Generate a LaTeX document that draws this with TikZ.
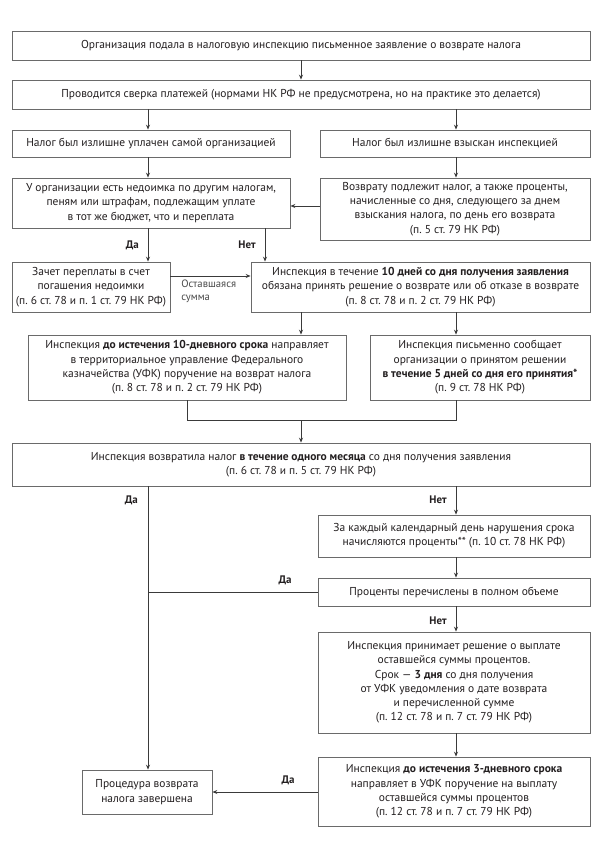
\documentclass[tikz,border=0pt]{standalone}
\usepackage{fontspec}
\setmainfont{PT Sans}
\usetikzlibrary{arrows.meta,calc}
\definecolor{boxc}{HTML}{6A6A6A}
\definecolor{linec}{HTML}{3A3A3A}
\definecolor{txt}{HTML}{231F20}
\definecolor{gtxt}{HTML}{4A4A4A}
\begin{document}
\begin{tikzpicture}[x=0.75pt,y=-0.75pt,
  bx/.style={draw=boxc, line width=0.7pt, inner sep=1pt, align=center,
     font=\fontsize{8.6}{10.7}\selectfont, text=txt},
  ln/.style={draw=linec, line width=0.55pt},
  ar/.style={ln, -{Stealth[length=3.6pt,width=3pt]}},
  lab/.style={font=\fontsize{8.2}{9}\selectfont\bfseries, text=txt, inner sep=0pt},
  note/.style={font=\fontsize{8}{9.8}\selectfont, text=gtxt, inner sep=0pt, align=left}]
\useasboundingbox (0,0) rectangle (600,855);
\fill[white] (0,0) rectangle (600,855);

% named x positions
\coordinate (xa) at (148,0);
\coordinate (xb) at (265,0);
\coordinate (xc) at (301,0);
\coordinate (xd) at (456,0);
\coordinate (xe) at (187,0);
\coordinate (yz) at (0,276);
\coordinate (yq) at (0,206);
\coordinate (jn) at (301,420);

% boxes
\node[bx, minimum width=433.5pt, minimum height=21.75pt] (b1) at (301,45.5)
  {Организация подала в налоговую инспекцию письменное заявление о возврате налога};
\node[bx, minimum width=433.5pt, minimum height=21.75pt] (b2) at (301,94.5)
  {Проводится сверка платежей (нормами НК РФ не предусмотрена, но на практике это делается)};
\node[bx, minimum width=208.5pt, minimum height=20.25pt] (b3) at (151,143.5)
  {Налог был излишне уплачен самой организацией};
\node[bx, minimum width=202.5pt, minimum height=20.25pt] (b4) at (455,143.5)
  {Налог был излишне взыскан инспекцией};
\node[bx, minimum width=208.5pt, minimum height=37.5pt] (b5) at (151,203)
  {У организации есть недоимка по другим налогам,\\ пеням или штрафам, подлежащим уплате\\ в тот же бюджет, что и переплата};
\node[bx, minimum width=202.5pt, minimum height=46.5pt] (b6) at (455,209)
  {Возврату подлежит налог, а также проценты,\\ начисленные со дня, следующего за днем\\ взыскания налога, по день его возврата\\ (п.~5 ст.~79 НК РФ)};
\node[bx, minimum width=118.5pt, minimum height=37.5pt] (b7) at (91,287)
  {Зачет переплаты в счет\\ погашения недоимки\\ (п.~6 ст.~78 и п.~1 ст.~79 НК РФ)};
\node[bx, minimum width=254.25pt, minimum height=37.5pt] (b8) at (420.5,287)
  {Инспекция в течение \textbf{10 дней со дня получения заявления}\\ обязана принять решение о возврате или об отказе в возврате\\ (п.~8 ст.~78 и п.~2 ст.~79 НК РФ)};
\node[bx, minimum width=238.5pt, minimum height=48.75pt] (b9) at (187,367.5)
  {Инспекция \textbf{до истечения 10-дневного срока} направляет\\ в территориальное управление Федерального\\ казначейства (УФК) поручение на возврат налога\\ (п.~8 ст.~78 и п.~2 ст.~79 НК РФ)};
\node[bx, minimum width=165pt, minimum height=48.75pt] (b10) at (480,367.5)
  {Инспекция письменно сообщает\\ организации о принятом решении\\ \textbf{в течение 5 дней со дня его принятия*}\\ (п.~9 ст.~78 НК РФ)};
\node[bx, minimum width=433.5pt, minimum height=32.25pt] (b11) at (301,464.5)
  {Инспекция возвратила налог \textbf{в течение одного месяца} со дня получения заявления\\ (п.~6 ст.~78 и п.~5 ст.~79 НК РФ)};
\node[bx, minimum width=204pt, minimum height=31.5pt] (b12) at (454,536)
  {За каждый календарный день нарушения срока\\ начисляются проценты** (п.~10 ст.~78 НК РФ)};
\node[bx, minimum width=204pt, minimum height=21pt] (b13) at (454,592)
  {Проценты перечислены в полном объеме};
\node[bx, minimum width=204pt, minimum height=75.75pt] (b14) at (454,682.5)
  {Инспекция принимает решение о выплате\\ оставшейся суммы процентов.\\ Срок — \textbf{3 дня} со дня получения\\ от УФК уведомления о дате возврата\\ и перечисленной сумме\\ (п.~12 ст.~78 и п.~7 ст.~79 НК РФ)};
\node[bx, minimum width=204pt, minimum height=51.75pt] (b15) at (454,791.5)
  {Инспекция \textbf{до истечения 3-дневного срока}\\ направляет в УФК поручение на выплату\\ оставшейся суммы процентов\\ (п.~12 ст.~78 и п.~7 ст.~79 НК РФ)};
\node[bx, minimum width=97.5pt, minimum height=33pt] (b16) at (147,792)
  {Процедура возврата\\ налога завершена};

% connectors
\draw[ar] (b1.south -| xc) -- (b2.north -| xc);
\draw[ar] (b2.south -| xa) -- (b3.north -| xa);
\draw[ar] (b2.south -| xd) -- (b4.north -| xd);
\draw[ar] (b3.south -| xa) -- (b5.north -| xa);
\draw[ar] (b4.south -| xd) -- (b6.north -| xd);
\draw[ar] (b6.west |- yq) -- (b5.east |- yq);
\draw[ar] (b5.south -| xa) -- (b7.north -| xa);
\draw[ar] (b5.south -| xb) -- (b8.north -| xb);
\draw[ar] (b7.east |- yz) -- (b8.west |- yz);
\draw[ar] (b8.south -| xc) -- (b9.north -| xc);
\draw[ar] (b8.south -| xd) -- (b10.north -| xd);
\draw[ln] (b9.south -| xe) |- (jn);
\draw[ln] (b10.south -| xd) |- (jn);
\draw[ar] (jn) -- (b11.north -| jn);
\draw[ar] (b11.south -| xa) -- (b16.north -| xa);
\draw[ar] (b11.south -| xd) -- (b12.north -| xd);
\draw[ar] (b12.south -| xd) -- (b13.north -| xd);
\draw[ln] (b13.west) -- (b13.west -| xa);
\draw[ar] (b13.south -| xd) -- (b14.north -| xd);
\draw[ar] (b14.south -| xd) -- (b15.north -| xd);
\draw[ar] (b15.west |- b16.east) -- (b16.east);

% labels
\node[lab, anchor=east] (l1) at (139,245) {Да};
\node[lab, anchor=east] (l2) at (256,245) {Нет};
\node[note, anchor=north west] (l3) at (181,280) {Оставшаяся\\сумма};
\node[lab, anchor=east] (l4) at (138,500) {Да};
\node[lab, anchor=east] (l5) at (447,500) {Нет};
\node[lab] (l6) at (285,580) {Да};
\node[lab, anchor=east] (l7) at (447,621) {Нет};
\node[lab] (l8) at (288,780) {Да};
\end{tikzpicture}
\end{document}
